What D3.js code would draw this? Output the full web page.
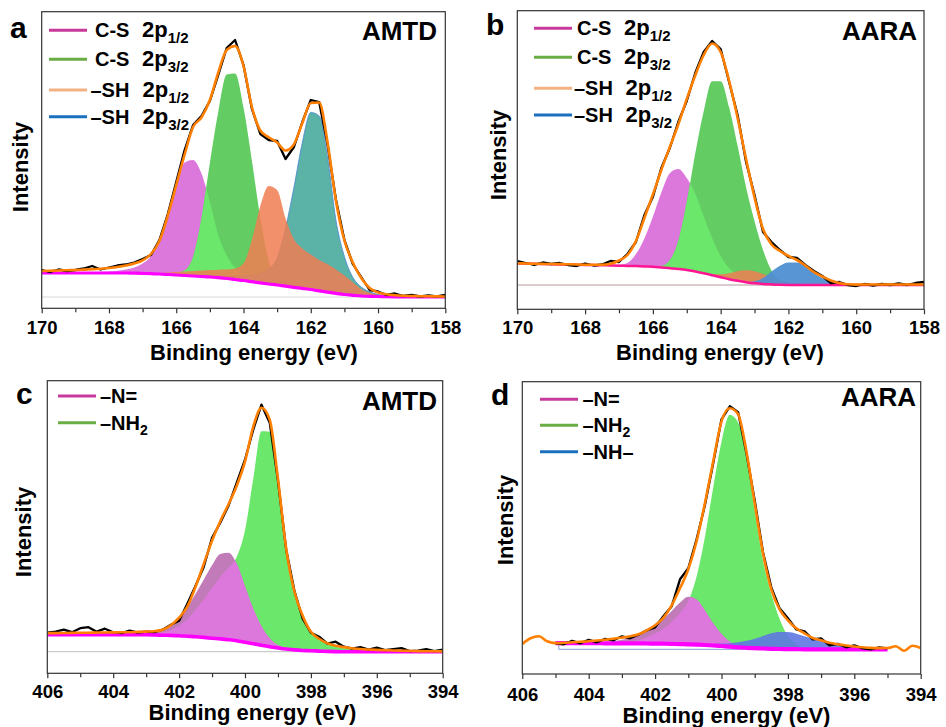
<!DOCTYPE html>
<html>
<head>
<meta charset="utf-8">
<script src="https://cdn.jsdelivr.net/npm/d3@7"></script>
<style>
  body { margin: 0; background: #fff; }
  svg text { font-family: "Liberation Sans", Arial, sans-serif; font-weight: bold; fill: #000; }
</style>
</head>
<body>
<svg id="chart" width="946" height="727"></svg>
<script>
// S 2p grid (a, b) and N 1s grid (c, d), 0.25 eV steps
const sEnergy = d3.range(170, 157.99, -0.25);
const nEnergy = d3.range(406, 393.99, -0.25);

const sMajorTicks = [170, 168, 166, 164, 162, 160, 158];
const sMinorTicks = [169, 167, 165, 163, 161, 159];
const nMajorTicks = [406, 404, 402, 400, 398, 396, 394];
const nMinorTicks = [405, 403, 401, 399, 397, 395];

const sLegendNames = ['C-S', 'C-S', '–SH', '–SH'];
const sLegendSubs = ['1/2', '3/2', '1/2', '3/2'];
const cLegendNames = ['–N=', '–NH'];
const cLegendSubs = ['', '2'];
const dLegendNames = ['–N=', '–NH', '–NH–'];
const dLegendSubs = ['', '2', ''];

// ---- panel a : AMTD, S 2p ----
const aBackground = [24,24,24,24,24,24,24,24,24,24,24,23.8,23.6,23.3,23,22.5,22,21.5,21,20.5,20,19.3,18.5,17.5,16.5,15.3,14.1,13,12,10.8,9.7,8.6,7.5,6.1,4.8,3.6,2.5,1.7,1,0.7,0.5,0.3,0.2,0.1,0,0,0,0,0];
const aCS12 = [0.2,0.3,0.3,0.4,0.5,0.6,0.8,1.2,1.6,2.3,3.5,5.8,10,17.5,35,60,92,113,116,103,75,43,23,12,7,4,2.7,1.9,1.3,0.9,0.6,0.4,0.3,0,0,0,0,0,0,0,0,0,0,0,0,0,0,0,0];
const aCS32 = [0,0,0,0,0,0,0,0,0,0,0,0,0,0,0,0.6,1.9,5,19,58,114,166,204,206,173,121,65,23,6,2,0.5,0,0,0,0,0,0,0,0,0,0,0,0,0,0,0,0,0,0];
const aSH12 = [0,0,0,0,0,0,0,0,0,0,0,0,0,0,1,2,3,4,5,6,7,8,9,11,17,42,77,98,95,68,48,40,35,31,28,24,19,13,7,3.5,1.5,0.5,0,0,0,0,0,0,0];
const aSH32 = [0,0,0,0,0,0,0,0,0,0,0,0,0,0,0,0,0,0,0,0,1,1.5,2,3,4.5,6,9,14.5,27,58,100,146,177,175,135,73,38,18,9,4.5,2,1,0.5,0,0,0,0,0,0];
const aEnvelope = [26,26.3,26.5,26.8,27,27.4,27.8,28.3,29,30,31.5,33.5,36.6,43,56,81.5,112,142.5,170,179.5,197,224.5,247,251,231,190,166.5,159.7,154.5,146.5,152.8,174,194,194.5,154.5,96,56.5,34.5,19,9,4.5,2.7,1.8,1.3,1,0.8,0.7,0.6,0.5];
const aRaw = [27,25,27.5,26,27,28.5,31,27.5,29.5,31.5,32.5,34.5,38,42,57,83,115,147,172,181,196,222,249,257,232,188,163,157,156,138,150,175,197,195,152,97,57,33,20,7,5.5,2,3.5,1,2,0.5,1.5,0.5,2];

// ---- panel b : AARA, S 2p ----
const bBackground = [21.5,21.4,21.2,21,20.8,20.6,20.4,20.2,20,19.9,19.8,19.5,19.3,19.1,18.9,18.6,18.3,17.6,16.8,16,15,13.5,11.8,9.8,7.8,5.8,4.2,2.8,1.7,1,0.6,0.3,0.1,0,0,0,0,0,0,0,0,0,0,0,0,0,0,0,0];
const bCS12 = [0,0,0,0,0,0,0,0,0,0,0,0,1,3,12,28,50,75,95,100,92,78,57,37,21,11,6,3,1.5,0.5,0,0,0,0,0,0,0,0,0,0,0,0,0,0,0,0,0,0,0];
const bCS32 = [0,0,0,0,0,0,0,0,0,0,0,0,0,0,0,0,0.5,1.5,8,28,68,118,162,194,196,172,135,95,62,34,14,4,1,0,0,0,0,0,0,0,0,0,0,0,0,0,0,0,0];
const bSH12 = [0,0,0,0,0,0,0,0,0,0,0,0,0,0,0,0,0,0,0,0,0,0,0,1,3,6,9.5,12,12,10,7.5,5,3,1.5,0.5,0,0,0,0,0,0,0,0,0,0,0,0,0,0];
const bSH32 = [0,0,0,0,0,0,0,0,0,0,0,0,0,0,0,0,0,0,0,0,0,0,0,0,0,0,0,0,2,6,13,19,22.5,22.5,19,12,7,3.5,1.2,0.3,0,0,0,0,0,0,0,0,0];
const bEnvelope = [21.7,21.5,21.3,21.1,21,20.9,20.7,20.5,20.3,20.2,20.2,21.3,24.5,30,44,67,90.5,115,138,160.5,186,209.5,230,241.5,233,204,167,126,87.5,56,40.5,34,29,25,19.5,13,8.5,4.5,2,0.8,0.4,0.5,0.5,0.5,0.5,0.5,0.5,0.5,0.5];
const bRaw = [24,22,20,22.5,21,22,20,19,21.5,19.5,20.5,24,23,31,43,70,88,117,137,163,184,212,233,244,236,203,170,123,90,53,43,35,28,27,20,14,9,2,3,0,-1,1,-0.5,1,0,1.5,0,2,3];

// ---- panel c : AMTD, N 1s ----
const cBackground = [17,17,17,17,17,17,17,17,17,17,17,17,17,16.8,16.5,16.3,16,15.5,15,14.3,13.5,12.8,12,11,9.5,8,6.5,5,3.8,2.7,1.8,1.2,1,0.6,0.3,0.1,0,0,0,0,0,0,0,0,0,0,0,0,0];
const cN1 = [0,0,0,0,0,0,0,0,0,0,0,0,1,2,4.5,9.5,17,29,43,58,73,85,87,77,56,35,19,8.5,3,1,0.3,0,0,0,0,0,0,0,0,0,0,0,0,0,0,0,0,0,0];
const cNH2 = [0,0,0,0,0,0,0,0,0,0,0,0,1,2,3,5.5,10,17,27,38,50,62,72,84,112,165,214,215,168,100,57,34,18,12,7.5,5,3.5,2.5,2,1.5,1,0.7,0.5,0.3,0,0,0,0,0];
const cEnvelope = [18.5,18.6,18.7,18.8,18.9,19,19.1,19.2,19.3,19.4,19.5,19.8,20.1,20.5,22,26.5,34,45,65,88,111,130.5,147.5,166,190,225,244,232,173,103,60,36,20,13,8.5,6,4.6,3.5,2.7,2.2,1.8,1.5,1.2,1,0.8,0.6,0.5,0.4,0.3];
const cRaw = [19,20,22,19.5,23.5,24.5,20,23,19.5,18.5,21,19,20,19.5,22,27,31,48,66,85,114,129,146,169,192,222,247,229,171,102,61,33,19,15,8,10,5,3,4.5,2,4,1.5,2.5,3.5,0.5,1,2.5,0.5,2];

// ---- panel d : AARA, N 1s (fit window 405 -> 395) ----
const dBackground = [null,null,null,null,6.2,6.2,6.2,6.1,6.1,6.1,6,6,6,5.9,5.9,5.8,5.7,5.6,5.4,5.2,5,4.7,4.3,3.8,3.3,2.6,2,1.5,1.1,0.8,0.5,0.3,0.2,0.1,0,0,0,0,0,0,0,0,0,0,0,null,null,null,null];
const dN1 = [0,0,0,0,0.2,0.3,0.4,0.5,0.6,0.8,1,2,3.5,5.5,8.5,12.5,18,25,33,41.5,47.5,45,34.5,22,12,5,1.8,0.5,0,0,0,0,0,0,0,0,0,0,0,0,0,0,0,0,0,0,0,0,0];
const dNH2 = [0,0,0,0,0,0,0,0,0,0,0,0,0,1,3,6,10,15,22,31,43,68,108,158,204,232,225,190,138,88,55,30,13,5,2,0.5,0,0,0,0,0,0,0,0,0,0,0,0,0];
const dNH = [0,0,0,0,0,0,0,0,0,0,0,0,0,0,0,0,0,0,0,0,0,0,1,1.5,2.5,3.5,5,7,9.5,12.5,15.5,17,17,15.5,13,10.5,8,6,4.5,3.5,2.5,1.8,1.2,0.8,0.5,0,0,0,0];
const dEnvelope = [5.3,11,13,8,6.2,6.5,7,7.5,8,8.8,9.6,10.5,11.7,13,15,19,24,31.5,44,61,80,108,146,188,228,241,235,198,146,96,60,40,29,21,16,11.3,9,6.5,5,3.8,2.8,2,1.4,1.2,1.3,3,-1.5,3.5,1.3];
const dRaw = [null,null,null,null,6,5,8.5,6,9.5,7,10.5,9,13,11,14.5,19,22,33,43,70,81,110,144,186,230,243,237,196,149,97,62,41,31,20,18,10,11,4,5.5,2,4,1,0,2,1,null,null,null,null];

// colours
const MAGENTA_FILL = '#dc78dc';
const GREEN_DARK = '#63cc63';
const GREEN_LIGHT = '#6be86b';
const MAUVE = '#c27bb9';
const ORANGE_FILL = '#f07d52';
const TEAL_FILL = '#5bb2a7';

const panels = [
  {
    id: 'a', letter: 'a', sample: 'AMTD', energy: sEnergy,
    box: { x: 41.7, y: 11.7, w: 403.6, h: 296.6 }, yDomain: [-11.3, 285.3],
    major: sMajorTicks, minor: sMinorTicks, labelOffset: 26,
    bg: aBackground, env: aEnvelope, raw: aRaw,
    bgColor: '#ff00ff', bgWidth: 3.2, zeroColor: '#d8d8d8', zeroFrom: 170, zeroTo: 158,
    peaks: [
      { values: aCS12, fill: MAGENTA_FILL },
      { values: aCS32, fill: GREEN_DARK, overlap: { with: 0, fill: GREEN_LIGHT } },
      { values: aSH32, fill: TEAL_FILL, stroke: '#4a86d0' },
      { values: aSH12, fill: ORANGE_FILL, opacity: 0.85 }
    ],
    letterPos: [10, 37.5], samplePos: [437, 40],
    titlePos: [254, 359.5], intensityPos: [28, 167],
    legend: { names: sLegendNames, subs: sLegendSubs, colors: ['#c73a9b', '#6aad45', '#f4b183', '#1a6fbf'],
      rows: [30.3, 59.3, 90, 116.7], lineX: [49, 87], nameX: [95, 95, 90.5, 90.5], orbX: [142, 142, 142.5, 142.5] }
  },
  {
    id: 'b', letter: 'b', sample: 'AARA', energy: sEnergy,
    box: { x: 517.3, y: 10.7, w: 406.7, h: 298.6 }, yDomain: [-24.3, 274.3],
    major: sMajorTicks, minor: sMinorTicks, labelOffset: 25,
    bg: bBackground, env: bEnvelope, raw: bRaw,
    bgColor: '#ff1493', bgWidth: 2.5, zeroColor: '#b49a9a', zeroFrom: 170, zeroTo: 158,
    peaks: [
      { values: bCS12, fill: MAGENTA_FILL },
      { values: bCS32, fill: GREEN_DARK, overlap: { with: 0, fill: GREEN_LIGHT } },
      { values: bSH12, fill: ORANGE_FILL, opacity: 0.85 },
      { values: bSH32, fill: '#4f8fd2', opacity: 0.95 }
    ],
    letterPos: [486, 35], samplePos: [917, 40],
    titlePos: [720, 359.5], intensityPos: [506, 155],
    legend: { names: sLegendNames, subs: sLegendSubs, colors: ['#c73a9b', '#6aad45', '#f4b183', '#1a6fbf'],
      rows: [28.3, 57.3, 88.3, 115], lineX: [534, 572], nameX: [577, 577, 574, 574], orbX: [624, 624, 625.5, 625.5] }
  },
  {
    id: 'c', letter: 'c', sample: 'AMTD', energy: nEnergy,
    box: { x: 47.3, y: 380.7, w: 395.4, h: 292.6 }, yDomain: [-21.6, 271],
    major: nMajorTicks, minor: nMinorTicks, labelOffset: 24.5,
    bg: cBackground, env: cEnvelope, raw: cRaw,
    bgColor: '#ff00ff', bgWidth: 3.6, zeroColor: '#bdbdbd', zeroFrom: 406, zeroTo: 394,
    peaks: [
      { values: cNH2, fill: GREEN_LIGHT },
      { values: cN1, fill: MAUVE, overlap: { with: 0, fill: MAGENTA_FILL } }
    ],
    letterPos: [16, 403.5], samplePos: [437, 409.5],
    titlePos: [252.5, 720.3], intensityPos: [31, 532],
    legend: { names: cLegendNames, subs: cLegendSubs, colors: ['#c73a9b', '#6aad45'],
      rows: [396, 422.7], lineX: [58, 96], nameX: [100, 100] }
  },
  {
    id: 'd', letter: 'd', sample: 'AARA', energy: nEnergy,
    box: { x: 522.3, y: 381.7, w: 398.4, h: 292.3 }, yDomain: [-24.7, 267.6],
    major: nMajorTicks, minor: nMinorTicks, labelOffset: 26.5,
    bg: dBackground, env: dEnvelope, raw: dRaw,
    bgColor: '#ff00ff', bgWidth: 4.2, zeroColor: '#8c9bd6', zeroFrom: 404.9, zeroTo: 395.1,
    peaks: [
      { values: dNH2, fill: GREEN_LIGHT },
      { values: dN1, fill: MAUVE, overlap: { with: 0, fill: MAGENTA_FILL } },
      { values: dNH, fill: '#5f78e2', opacity: 0.9 }
    ],
    letterPos: [491, 405], samplePos: [916, 406],
    titlePos: [726.5, 722.5], intensityPos: [513, 520],
    legend: { names: dLegendNames, subs: dLegendSubs, colors: ['#c73a9b', '#6aad45', '#1a6fbf'],
      rows: [399.3, 425.3, 451.7], lineX: [540, 578], nameX: [582.5, 582.5, 582.5] }
  }
];

const svg = d3.select('#chart');
const defs = svg.append('defs');

panels.forEach(p => {
  const e = p.energy;
  const bottom = p.box.y + p.box.h;
  const x = d3.scaleLinear()
    .domain([e[0], e[e.length - 1]])
    .range([p.box.x, p.box.x + p.box.w]);
  const y = d3.scaleLinear()
    .domain(p.yDomain)
    .range([bottom, p.box.y]);

  const g = svg.append('g');

  // clip to plot area
  defs.append('clipPath').attr('id', 'plot-' + p.id)
    .append('rect')
    .attr('x', p.box.x).attr('y', p.box.y)
    .attr('width', p.box.w).attr('height', p.box.h);
  const plot = g.append('g').attr('clip-path', `url(#plot-${p.id})`);

  // zero line
  plot.append('line')
    .attr('x1', x(p.zeroFrom)).attr('x2', x(p.zeroTo))
    .attr('y1', y(0)).attr('y2', y(0))
    .attr('stroke', p.zeroColor).attr('stroke-width', 1);

  // component peaks, filled from the background
  const peakArea = vals => d3.area()
    .defined((d, i) => p.bg[i] != null)
    .x((d, i) => x(e[i]))
    .y0((d, i) => y(p.bg[i]))
    .y1((d, i) => y(p.bg[i] + vals[i]))
    .curve(d3.curveMonotoneX)(e);

  p.peaks.forEach((pk, k) => {
    plot.append('path')
      .attr('d', peakArea(pk.values))
      .attr('fill', pk.fill)
      .attr('fill-opacity', pk.opacity || 1)
      .attr('stroke', pk.stroke || 'none')
      .attr('stroke-width', 0.8);
    if (pk.overlap) {
      // where this peak lies over another one the shade changes
      const cid = `ov-${p.id}-${k}`;
      defs.append('clipPath').attr('id', cid)
        .append('path').attr('d', peakArea(p.peaks[pk.overlap.with].values));
      plot.append('path')
        .attr('d', peakArea(pk.values))
        .attr('fill', pk.overlap.fill)
        .attr('clip-path', `url(#${cid})`);
    }
  });

  // left end marker of the fit window in d
  if (p.id === 'd') {
    plot.append('line')
      .attr('x1', x(p.zeroFrom)).attr('x2', x(p.zeroFrom))
      .attr('y1', y(0)).attr('y2', y(p.bg[4]))
      .attr('stroke', p.zeroColor).attr('stroke-width', 1);
  }

  // Shirley background
  plot.append('path')
    .attr('d', d3.line()
      .defined(d => d != null)
      .x((d, i) => x(e[i]))
      .y(d => y(d))
      .curve(d3.curveMonotoneX)(p.bg))
    .attr('fill', 'none')
    .attr('stroke', p.bgColor)
    .attr('stroke-width', p.bgWidth);

  // raw spectrum
  plot.append('path')
    .attr('d', d3.line()
      .defined(d => d != null)
      .x((d, i) => x(e[i]))
      .y(d => y(d))(p.raw))
    .attr('fill', 'none')
    .attr('stroke', '#000')
    .attr('stroke-width', 2.3)
    .attr('stroke-linejoin', 'round');

  // cumulative fit
  plot.append('path')
    .attr('d', d3.line()
      .x((d, i) => x(e[i]))
      .y(d => y(d))
      .curve(d3.curveMonotoneX)(p.env))
    .attr('fill', 'none')
    .attr('stroke', '#ff7f00')
    .attr('stroke-width', 2.6)
    .attr('stroke-linejoin', 'round');

  // frame
  g.append('rect')
    .attr('x', p.box.x).attr('y', p.box.y)
    .attr('width', p.box.w).attr('height', p.box.h)
    .attr('fill', 'none')
    .attr('stroke', '#333')
    .attr('stroke-width', 1.2);

  // bottom axis: majors with labels, minors without
  const major = g.append('g')
    .attr('transform', `translate(0,${bottom})`)
    .call(d3.axisBottom(x).tickValues(p.major).tickSize(5).tickFormat(d3.format('d')));
  major.select('.domain').remove();
  major.selectAll('line').attr('stroke', '#333').attr('stroke-width', 1.2);
  major.selectAll('text')
    .attr('y', p.labelOffset).attr('dy', 0)
    .style('font-size', '18.5px')
    .style('font-family', '"Liberation Sans", Arial, sans-serif')
    .style('font-weight', 'bold')
    .attr('fill', '#000');

  const minor = g.append('g')
    .attr('transform', `translate(0,${bottom})`)
    .call(d3.axisBottom(x).tickValues(p.minor).tickSize(4).tickFormat(''));
  minor.select('.domain').remove();
  minor.selectAll('line').attr('stroke', '#333').attr('stroke-width', 1.2);

  // titles
  g.append('text')
    .attr('x', p.titlePos[0]).attr('y', p.titlePos[1])
    .attr('text-anchor', 'middle')
    .style('font-size', '22px')
    .text('Binding energy (eV)');

  g.append('text')
    .attr('transform', `translate(${p.intensityPos[0]},${p.intensityPos[1]}) rotate(-90)`)
    .attr('text-anchor', 'middle')
    .style('font-size', '22px')
    .text('Intensity');

  g.append('text')
    .attr('x', p.letterPos[0]).attr('y', p.letterPos[1])
    .style('font-size', '30px')
    .text(p.letter);

  g.append('text')
    .attr('x', p.samplePos[0]).attr('y', p.samplePos[1])
    .attr('text-anchor', 'end')
    .style('font-size', '26px')
    .text(p.sample);

  // legend
  const lg = p.legend;
  lg.names.forEach((name, i) => {
    const ry = lg.rows[i];
    g.append('line')
      .attr('x1', lg.lineX[0]).attr('x2', lg.lineX[1])
      .attr('y1', ry).attr('y2', ry)
      .attr('stroke', lg.colors[i])
      .attr('stroke-width', 3);
    if (lg.orbX) {
      g.append('text')
        .attr('x', lg.nameX[i]).attr('y', ry + 7)
        .style('font-size', '20px')
        .text(name);
      const t = g.append('text')
        .attr('x', lg.orbX[i]).attr('y', ry + 7)
        .style('font-size', '22px')
        .text('2p');
      t.append('tspan')
        .attr('dy', 6)
        .style('font-size', '15px')
        .text(lg.subs[i]);
    } else {
      const t = g.append('text')
        .attr('x', lg.nameX[i]).attr('y', ry + 7)
        .style('font-size', '20px')
        .text(name);
      if (lg.subs[i]) {
        t.append('tspan')
          .attr('dy', 5)
          .style('font-size', '14px')
          .text(lg.subs[i]);
      }
    }
  });
});
</script>
</body>
</html>
